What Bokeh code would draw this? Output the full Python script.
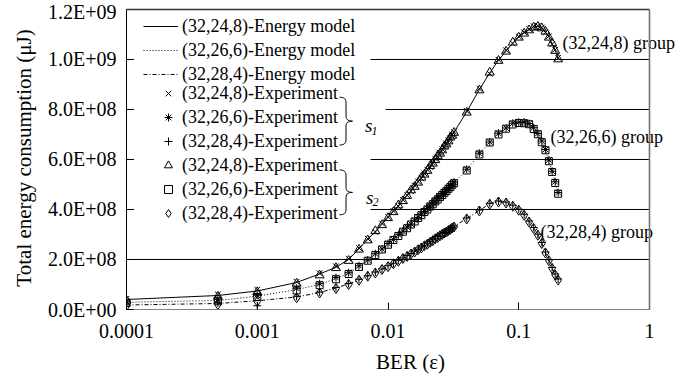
import numpy as np
from bokeh.plotting import figure
from bokeh.models import (Range1d, FixedTicker, Legend, LegendItem, Label,
                          BoxAnnotation)
from bokeh.embed import file_html
from bokeh.resources import INLINE

# ---------------------------------------------------------------- data
# bit error rate of each measurement / model evaluation
ber = [0.0001, 0.0005,
       0.001, 0.002, 0.003, 0.004, 0.005, 0.006, 0.007, 0.008, 0.009, 0.010,
       0.011, 0.012, 0.013, 0.014, 0.015, 0.016, 0.017, 0.018, 0.019, 0.020,
       0.021, 0.022, 0.023, 0.024, 0.025, 0.026, 0.027, 0.028, 0.029, 0.030,
       0.031, 0.032,
       0.04, 0.05, 0.06, 0.07, 0.08, 0.09, 0.10, 0.11, 0.12, 0.13, 0.14,
       0.15, 0.16, 0.17, 0.18, 0.19, 0.20]

# total energy consumption, in units of 1E+08 uJ
model_32_24_8 = [0.40, 0.56,
                 0.74, 1.08, 1.42, 1.69, 2.00, 2.43, 2.80, 3.12, 3.41, 3.68,
                 3.92, 4.15, 4.36, 4.56, 4.75, 4.93, 5.10, 5.26, 5.42, 5.57,
                 5.72, 5.86, 6.00, 6.13, 6.26, 6.39, 6.51, 6.63, 6.75, 6.87,
                 6.98, 7.09,
                 7.91, 8.80, 9.46, 9.97, 10.34, 10.66, 10.90, 11.06, 11.19,
                 11.30, 11.33, 11.27, 11.10, 10.90, 10.63, 10.37, 10.04]
model_32_26_6 = [0.29, 0.36,
                 0.53, 0.80, 1.00, 1.24, 1.44, 1.72, 1.97, 2.20, 2.41, 2.61,
                 2.79, 2.96, 3.12, 3.27, 3.41, 3.54, 3.67, 3.79, 3.91, 4.02,
                 4.13, 4.23, 4.33, 4.42, 4.51, 4.60, 4.68, 4.76, 4.84, 4.92,
                 5.00, 5.07,
                 5.58, 6.22, 6.69, 7.02, 7.24, 7.42, 7.47, 7.47, 7.42, 7.24,
                 7.02, 6.71, 6.38, 5.95, 5.51, 5.08, 4.65]
model_32_28_4 = [0.18, 0.24,
                 0.35, 0.50, 0.68, 0.86, 1.02, 1.19, 1.34, 1.48, 1.61, 1.73,
                 1.84, 1.95, 2.05, 2.14, 2.23, 2.32, 2.40, 2.48, 2.56, 2.63,
                 2.70, 2.77, 2.84, 2.90, 2.96, 3.02, 3.07, 3.12, 3.17, 3.22,
                 3.27, 3.32,
                 3.64, 3.96, 4.23, 4.32, 4.28, 4.15, 3.99, 3.79, 3.52, 3.26,
                 2.99, 2.66, 2.28, 1.97, 1.66, 1.40, 1.20]

# experiment, scenario s1
s1_32_24_8 = [0.43, 0.60,
              0.79, 1.11, 1.45, 1.73, 2.03, 2.46, 2.83, 3.10, 3.44, 3.71,
              3.94, 4.13, 4.39, 4.57, 4.73, 4.96, 5.12, 5.24, 5.44, 5.59,
              5.70, 5.88, 6.03, 6.11, 6.28, 6.41, 6.50, 6.65, 6.77, 6.85,
              7.00, 7.11,
              7.94, 8.83, 9.43, 9.99, 10.37, 10.64, 10.92, 11.09, 11.22,
              11.33, 11.35, 11.28, 11.08, 10.93, 10.61, 10.39, 10.07]
s1_32_26_6 = [0.33, 0.41,
              0.57, 0.85, 1.03, 1.28, 1.47, 1.75, 1.98, 2.23, 2.42, 2.64,
              2.80, 2.99, 3.13, 3.30, 3.42, 3.57, 3.68, 3.82, 3.92, 4.05,
              4.14, 4.26, 4.34, 4.45, 4.52, 4.63, 4.69, 4.79, 4.85, 4.95,
              5.01, 5.10,
              5.61, 6.25, 6.70, 7.05, 7.26, 7.45, 7.49, 7.50, 7.44, 7.27,
              7.04, 6.74, 6.40, 5.98, 5.53, 5.11, 4.68]
s1_32_28_4 = [0.22, 0.27,
              0.15, 0.53, 0.70, 0.88, 1.04, 1.21, 1.35, 1.50, 1.62, 1.75,
              1.85, 1.97, 2.06, 2.16, 2.24, 2.34, 2.41, 2.50, 2.57, 2.65,
              2.71, 2.79, 2.85, 2.92, 2.97, 3.04, 3.08, 3.14, 3.18, 3.24,
              3.28, 3.34,
              3.66, 3.98, 4.25, 4.34, 4.30, 4.17, 4.01, 3.81, 3.54, 3.28,
              3.01, 2.68, 2.30, 1.99, 1.68, 1.42, 1.22]

# experiment, scenario s2
s2_32_24_8 = [0.36, 0.52,
              0.70, 1.04, 1.37, 1.66, 1.95, 2.40, 2.77, 3.14, 3.38, 3.66,
              3.90, 4.17, 4.34, 4.55, 4.77, 4.91, 5.08, 5.28, 5.40, 5.55,
              5.74, 5.84, 5.98, 6.15, 6.24, 6.37, 6.53, 6.61, 6.73, 6.89,
              6.96, 7.07,
              7.88, 8.77, 9.48, 9.95, 10.32, 10.68, 10.88, 11.04, 11.17,
              11.28, 11.31, 11.25, 11.12, 10.88, 10.65, 10.35, 10.01]
s2_32_26_6 = [0.26, 0.33,
              0.50, 0.76, 0.97, 1.21, 1.42, 1.70, 1.95, 2.18, 2.40, 2.59,
              2.78, 2.94, 3.11, 3.25, 3.40, 3.52, 3.66, 3.77, 3.90, 4.00,
              4.12, 4.21, 4.32, 4.40, 4.50, 4.58, 4.67, 4.74, 4.83, 4.90,
              4.99, 5.05,
              5.56, 6.20, 6.68, 7.00, 7.23, 7.40, 7.46, 7.45, 7.41, 7.22,
              7.01, 6.69, 6.37, 5.93, 5.50, 5.06, 4.63]
s2_32_28_4 = [0.15, 0.20,
              0.32, 0.47, 0.66, 0.84, 1.00, 1.17, 1.33, 1.46, 1.60, 1.71,
              1.83, 1.93, 2.04, 2.12, 2.22, 2.30, 2.39, 2.46, 2.55, 2.61,
              2.69, 2.75, 2.83, 2.88, 2.95, 3.00, 3.06, 3.10, 3.16, 3.20,
              3.26, 3.30,
              3.62, 3.94, 4.21, 4.30, 4.26, 4.13, 3.97, 3.77, 3.50, 3.24,
              2.97, 2.64, 2.26, 1.95, 1.64, 1.38, 1.18]

UNIT = 1e8

x_ticks = [0.0001, 0.001, 0.01, 0.1, 1]
x_tick_labels = ["0.0001", "0.001", "0.01", "0.1", "1"]
y_ticks = [0, 2e8, 4e8, 6e8, 8e8, 1.0e9, 1.2e9]
y_tick_labels = ["0.0E+00", "2.0E+08", "4.0E+08", "6.0E+08", "8.0E+08",
                 "1.0E+09", "1.2E+09"]

codes = ["(32,24,8)", "(32,26,6)", "(32,28,4)"]

# ---------------------------------------------------------------- figure
W, H = 694, 376
PL, PR, PT, PB = 126, 649, 9, 310      # plot box edges in canvas px
XLO, XHI, YLO, YHI = 1e-4, 1.0, 0.0, 1.2e9
FRAME_TOP = 6                          # frame starts a little above the box
# the frame runs to the right canvas edge (so the group notes are not
# clipped) and slightly above the box top (so its border line is whole);
# the visible plot box is still [XLO, XHI] x [YLO, YHI]
XMAX = 10 ** (np.log10(XLO) + (np.log10(XHI) - np.log10(XLO)) * (W - PL) / (PR - PL))
YMAX = YLO + (YHI - YLO) * (PB - FRAME_TOP) / (PB - PT)

SERIF = "Liberation Serif"

p = figure(width=W, height=H, x_axis_type="log",
           x_range=Range1d(XLO, XMAX), y_range=Range1d(YLO, YMAX),
           output_backend="svg", toolbar_location=None,
           min_border_left=PL, min_border_right=0,
           min_border_top=FRAME_TOP, min_border_bottom=H - PB)
p.background_fill_color = "white"
p.border_fill_color = "white"
p.outline_line_color = None


def at(px, py):
    """Canvas pixel position -> data coordinates of this figure."""
    u = np.log10(XLO) + (np.log10(XHI) - np.log10(XLO)) * (np.asarray(px, float) - PL) / (PR - PL)
    return 10 ** u, YLO + (YHI - YLO) * (PB - np.asarray(py, float)) / (PB - PT)


# axes
p.xaxis.ticker = FixedTicker(ticks=x_ticks)
p.xaxis.major_label_overrides = dict(zip(x_ticks, x_tick_labels))
p.xaxis.bounds = (XLO, XHI)
p.yaxis.ticker = FixedTicker(ticks=y_ticks)
p.yaxis.major_label_overrides = dict(zip(y_ticks, y_tick_labels))
p.yaxis.bounds = (YLO, YHI)
for ax in (p.xaxis[0], p.yaxis[0]):
    ax.major_tick_in = 7
    ax.major_tick_out = 0
    ax.minor_tick_line_color = None
    ax.major_tick_line_color = "black"
    ax.major_label_text_font = SERIF
    ax.major_label_text_font_size = "20px"
    ax.major_label_text_color = "black"
    ax.axis_label_text_font = SERIF
    ax.axis_label_text_font_size = "21px"
    ax.axis_label_text_font_style = "normal"
    ax.axis_label_text_color = "black"
p.xaxis.axis_label = "BER (\u03b5)"
p.yaxis.axis_label = "Total energy consumption (\u03bcJ)"
p.xaxis.axis_line_color = "#808080"
p.yaxis.axis_line_color = "black"
p.xaxis.major_label_standoff = 14
p.yaxis.major_label_standoff = 10
p.xaxis.axis_label_standoff = 9
p.yaxis.axis_label_standoff = 9

# horizontal grid lines across the plot box only
p.xgrid.grid_line_color = None
p.ygrid.grid_line_color = None
grid_y = y_ticks[1:-1]
p.segment(x0=[XLO] * len(grid_y), x1=[XHI] * len(grid_y), y0=grid_y,
          y1=grid_y, line_color="black", line_width=1, level="underlay")

# white panel behind the legend block (hides the grid there)
mx0, my0 = at(133.5, 226)
mx1, my1 = at(370, 12)
p.add_layout(BoxAnnotation(left=mx0, right=mx1, bottom=my0, top=my1,
                           fill_color="white", fill_alpha=1,
                           line_color=None, level="glyph"))
sx0, sy0 = at(369, 118)
sx1, sy1 = at(385, 100)
p.add_layout(BoxAnnotation(left=sx0, right=sx1, bottom=sy0, top=sy1,
                           fill_color="white", fill_alpha=1,
                           line_color=None, level="glyph"))

# border of the plot box: dark top edge, grey right edge
p.segment(x0=[XLO], x1=[XHI], y0=[YHI], y1=[YHI], line_color="#333333",
          line_width=1.3, level="overlay")
p.segment(x0=[XHI], x1=[XHI], y0=[YLO], y1=[YHI], line_color="#707070",
          line_width=1.6, level="overlay")

# ---------------------------------------------------------------- series
x = np.array(ber)
models = [model_32_24_8, model_32_26_6, model_32_28_4]
dashes = ["solid", "1 2", "4 2 1 2"]
s1 = [s1_32_24_8, s1_32_26_6, s1_32_28_4]
s2 = [s2_32_24_8, s2_32_26_6, s2_32_28_4]
s1_markers = [("x", 8), ("asterisk", 8), ("cross", 8)]
s2_markers = [("triangle", 9), ("square", 7), ("diamond", 10)]

model_items, exp1_items, exp2_items = [], [], []
for code, m, dash, e1, e2, mk1, mk2 in zip(codes, models, dashes, s1, s2,
                                           s1_markers, s2_markers):
    r = p.line(x, np.array(m) * UNIT, line_color="black", line_width=1,
               line_dash=dash)
    model_items.append(LegendItem(label=f"{code}-Energy model", renderers=[r]))
    r1 = p.scatter(x, np.array(e1) * UNIT, marker=mk1[0], size=mk1[1],
                   line_color="black", fill_color=None, line_width=1)
    exp1_items.append(LegendItem(label=f"{code}-Experiment", renderers=[r1]))
    r2 = p.scatter(x, np.array(e2) * UNIT, marker=mk2[0], size=mk2[1],
                   line_color="black", fill_color=None, line_width=1)
    exp2_items.append(LegendItem(label=f"{code}-Experiment", renderers=[r2]))


def make_legend(items, left_px, top_px, glyph_w):
    n = len(items)
    height = n * 20 + (n - 1) * 3
    leg = Legend(items=items, location=(left_px - PL, PB - (top_px + height)),
                 orientation="vertical", padding=0, margin=0, spacing=3,
                 glyph_width=glyph_w, glyph_height=20, label_height=20,
                 label_standoff=4, border_line_color=None,
                 background_fill_alpha=0,
                 label_text_font=SERIF, label_text_font_size="18px",
                 label_text_color="black")
    p.add_layout(leg, "center")


make_legend(model_items, 143, 19.5, 35)
make_legend(exp1_items + exp2_items, 158, 89.5, 20)

# ---------------------------------------------------------------- braces
def brace(top, bottom, x_hook=339.0, x_spine=345.5, x_tip=352.0, r=5.0):
    mid = 0.5 * (top + bottom)
    t = np.linspace(0, 1, 8)

    def quad(p0, c, p1):
        return ((1 - t) ** 2 * p0[0] + 2 * (1 - t) * t * c[0] + t ** 2 * p1[0],
                (1 - t) ** 2 * p0[1] + 2 * (1 - t) * t * c[1] + t ** 2 * p1[1])

    segs = [quad((x_hook, top), (x_spine, top), (x_spine, top + r)),
            ([x_spine, x_spine], [top + r, mid - r]),
            quad((x_spine, mid - r), (x_spine, mid), (x_tip, mid)),
            quad((x_tip, mid), (x_spine, mid), (x_spine, mid + r)),
            ([x_spine, x_spine], [mid + r, bottom - r]),
            quad((x_spine, bottom - r), (x_spine, bottom), (x_hook, bottom))]
    px = np.concatenate([np.asarray(s[0], float) for s in segs])
    py = np.concatenate([np.asarray(s[1], float) for s in segs])
    bx, by = at(px, py)
    p.line(bx, by, line_color="black", line_width=1, level="overlay")


brace(97, 145)
brace(170, 215)


def note(px, py, text, size="18px", style="normal", baseline="middle"):
    lx, ly = at(px, py)
    p.add_layout(Label(x=lx, y=ly, text=text, text_font=SERIF,
                       text_font_size=size, text_font_style=style,
                       text_align="left", text_baseline=baseline,
                       text_color="black"))


# scenario labels with subscripts
note(364.5, 125.5, "s", size="19px", style="italic", baseline="alphabetic")
note(371.0, 130.5, "1", size="12px", style="italic", baseline="alphabetic")
note(365.5, 197.5, "s", size="19px", style="italic", baseline="alphabetic")
note(372.0, 202.0, "2", size="12px", style="italic", baseline="alphabetic")

# group annotations
note(562, 43, f"{codes[0]} group")
note(550, 137, f"{codes[1]} group")
note(540, 232, f"{codes[2]} group")

open("out.html", "w").write(file_html(p, INLINE))
